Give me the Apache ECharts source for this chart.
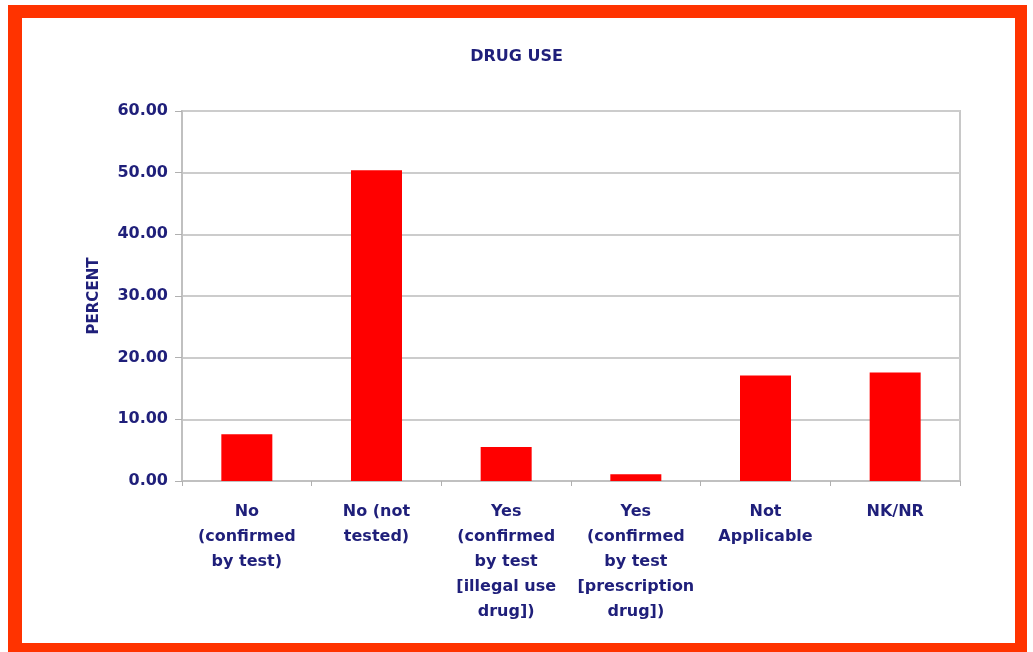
<!DOCTYPE html>
<html>
<head>
<meta charset="utf-8">
<script src="https://cdn.jsdelivr.net/npm/echarts@6/dist/echarts.min.js"></script>
<style>
  html, body { margin: 0; padding: 0; background: #ffffff; overflow: hidden; }
  #frame {
    position: absolute; left: 8px; top: 5px; width: 1019px; height: 647px;
    box-sizing: border-box; border-style: solid; border-color: #ff3300;
    border-width: 13px 12px 9px 14px; background: #ffffff;
  }
  #chart { position: absolute; left: 0; top: 0; width: 1033px; height: 652px; }
</style>
</head>
<body>
<div id="frame"></div>
<div id="chart"></div>
<script>
const titleText = 'DRUG USE';
const yAxisName = 'PERCENT';
const categories = [
  'No\n(confirmed\nby test)',
  'No (not\ntested)',
  'Yes\n(confirmed\nby test\n[illegal use\ndrug])',
  'Yes\n(confirmed\nby test\n[prescription\ndrug])',
  'Not\nApplicable',
  'NK/NR'
];
const percentValues = [7.6, 50.4, 5.5, 1.1, 17.1, 17.6];
const yTicks = { min: 0, max: 60, interval: 10 };

const navy = '#1f1f7a';
const fontFam = '"DejaVu Sans", Verdana, sans-serif';

const chart = echarts.init(document.getElementById('chart'), null, { renderer: 'canvas' });
chart.setOption({
  backgroundColor: 'transparent',
  animation: false,
  title: {
    text: titleText,
    left: 'center',
    top: 44,
    textStyle: { color: navy, fontSize: 16, fontWeight: 'bold', fontFamily: fontFam }
  },
  grid: {
    left: 182, right: 73, top: 111, bottom: 171,
    show: true, borderColor: '#c8c8c8', borderWidth: 2, backgroundColor: 'transparent'
  },
  xAxis: {
    type: 'category',
    data: categories,
    axisLine: { show: true, lineStyle: { color: '#c0c0c0', width: 2 } },
    axisTick: { show: true, length: 5, lineStyle: { color: '#b0b0b0', width: 1 } },
    axisLabel: {
      interval: 0, margin: 18, color: navy, fontSize: 16, fontWeight: 'bold',
      fontFamily: fontFam, lineHeight: 25, align: 'center'
    }
  },
  yAxis: {
    type: 'value',
    min: yTicks.min, max: yTicks.max, interval: yTicks.interval,
    name: yAxisName,
    nameLocation: 'middle',
    nameRotate: 90,
    nameGap: 80,
    nameTextStyle: { color: navy, fontSize: 15, fontWeight: 'bold', fontFamily: fontFam },
    axisLine: { show: true, lineStyle: { color: '#c0c0c0', width: 2 } },
    axisTick: { show: true, length: 7, lineStyle: { color: '#b0b0b0', width: 1 } },
    splitLine: { show: true, lineStyle: { color: '#cccccc', width: 2 } },
    axisLabel: {
      margin: 14, color: navy, fontSize: 16, fontWeight: 'bold', fontFamily: fontFam,
      formatter: v => v.toFixed(2)
    }
  },
  series: [{
    type: 'bar',
    data: percentValues,
    barWidth: 51,
    itemStyle: { color: '#ff0000' }
  }]
});
</script>
</body>
</html>
